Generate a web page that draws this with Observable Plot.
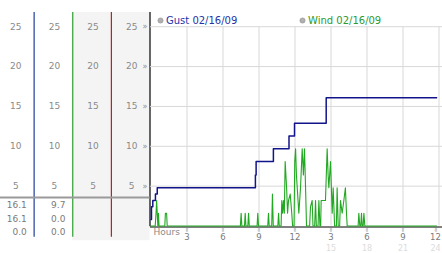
<!DOCTYPE html>
<html>
<head>
<meta charset="utf-8">
<script src="https://cdn.jsdelivr.net/npm/d3@7"></script>
<script src="https://cdn.jsdelivr.net/npm/@observablehq/plot@0.6"></script>
<style>
  html, body { margin: 0; padding: 0; background: #fff; }
  #wrap { display: flex; width: 442px; height: 253px; overflow: hidden; }
  #wrap svg { display: block; }
</style>
</head>
<body>
<div id="wrap"></div>
<script>
// ---- data ----
const gustHour  = [0, 0.04, 0.15, 0.37, 0.52, 8.7, 8.76, 10.2, 11.5, 11.96, 14.6, 23.8];
const gustSpeed = [0.8, 2.4, 3.2, 4.0, 4.8, 6.4, 8.1, 9.7, 11.3, 12.9, 16.1, 16.1];

const windHour = [0, 0.35, 0.42, 0.47, 0.52, 0.57, 0.62, 0.67, 1.15, 1.2, 1.3, 1.35,
  7.45, 7.51, 7.57, 7.79, 7.85, 7.91, 8.07, 8.13, 8.19, 8.84, 8.9, 8.96, 9.73, 9.79, 9.85,
  10.06, 10.12, 10.19, 10.57, 10.63, 10.69, 10.84, 10.9, 10.97, 11.04, 11.11, 11.18, 11.3,
  11.38, 11.46, 11.6, 11.73, 11.8, 11.92, 11.98, 12.05, 12.12, 12.32, 12.46, 12.6, 12.7,
  12.79, 12.88, 12.96, 13.22, 13.29, 13.43, 13.5, 13.64, 13.71, 13.78, 13.92, 13.99, 14.08,
  14.14, 14.18, 14.54, 14.68, 14.76, 14.82, 14.96, 15.1, 15.18, 15.3, 15.45, 15.51, 15.6,
  15.72, 15.79, 15.93, 16.07, 16.2, 16.29, 16.35, 17.26, 17.32, 17.4, 17.48, 17.54, 17.6,
  17.68, 17.74, 17.82, 23.8];
const windSpeed = [0, 0, 1.6, 3.2, 1.6, 0, 1.6, 0, 0, 1.6, 1.6, 0,
  0, 1.6, 0, 0, 1.6, 0, 0, 1.6, 0, 0, 1.6, 0, 0, 1.6, 0,
  0, 4.0, 0, 0, 1.6, 0, 0, 3.2, 1.6, 3.2, 1.6, 8.1, 4.8,
  1.6, 3.2, 4.0, 1.6, 0, 0, 8.1, 9.7, 6.4, 1.6, 4.8, 9.7, 6.4,
  9.7, 4.8, 0, 0, 2.4, 3.2, 0, 0, 3.2, 0, 0, 3.2, 0,
  0, 3.2, 3.2, 9.7, 6.4, 4.8, 8.1, 1.6, 4.8, 0, 0, 4.8, 0,
  0, 3.2, 1.6, 3.2, 4.8, 1.6, 0, 0, 1.6, 0, 0, 1.6, 0,
  0, 1.6, 0, 0];

const yTicks = [5, 10, 15, 20, 25];
const xGrid = [3, 6, 9, 12, 15, 18, 21, 24];
const xTickLabels = ["3", "6", "9", "12", "3", "6", "9", "12"];
const faintTicks = [15, 18, 21, 24];
const faintLabels = ["15", "18", "21", "24"];

const gustLabel = "Gust 02/16/09";
const windLabel = "Wind 02/16/09";
const gustStats = ["16.1", "16.1", "0.0"];
const windStats = ["9.7", "0.0", "0.0"];
const panelColors = ["#1f3d9c", "#2f9f2f", "#a82525"];

// ---- build ----
const gust = gustHour.map((h, i) => ({h, v: gustSpeed[i]}));
const wind = windHour.map((h, i) => ({h, v: windSpeed[i]}));
const yDomain = [0, 26.66];
const yRange = [225.5, 13];
const font = {fontFamily: "DejaVu Sans", fontSize: "9px", background: "transparent", overflow: "visible"};

// left panel: four columns of axis labels
const cells = [];
for (let p = 0; p < 4; p++) for (const v of yTicks) cells.push({p: p + 0.5, v});
const statRows = gustStats.map((g, i) => ({g, w: windStats[i], i}));

const left = Plot.plot({
  width: 150, height: 253, margin: 0,
  x: {domain: [0, 4], range: [-5, 149.5], axis: null},
  y: {domain: yDomain, range: yRange, axis: null},
  style: font,
  marks: [
    Plot.rect([{a: 2, b: 3}, {a: 3, b: 4}], {x1: "a", x2: "b", y1: -1.85, y2: 26.8, fill: "#f4f4f4"}),
    Plot.ruleX([1, 2, 3], {x: d => d, y1: -1.4, y2: 26.8, stroke: (d, i) => panelColors[i], strokeWidth: 1.2}),
    Plot.ruleX([4], {y1: -0.1, y2: 26.8, stroke: "#000", strokeWidth: 1.2}),
    Plot.ruleY([3.58], {x1: 0, x2: 4, stroke: "#9a9a9a", strokeWidth: 2}),
    Plot.text(cells, {x: "p", y: "v", text: d => String(d.v), fill: "#8a8a8a", dx: 1}),
    Plot.text(yTicks, {x: () => 4, y: d => d, text: () => "»", fill: "#909090", fontSize: 8, dx: -5}),
    ...statRows.map(r => Plot.text([r], {x: () => 0.5, y: () => 0, text: "g", textAnchor: "end", dx: 12, dy: -20.5 + 13.35 * r.i, fill: "#7a7a7a"})),
    ...statRows.map(r => Plot.text([r], {x: () => 1.5, y: () => 0, text: "w", textAnchor: "end", dx: 12, dy: -20.5 + 13.35 * r.i, fill: "#7a7a7a"}))
  ]
});

const main = Plot.plot({
  width: 292, height: 253, margin: 0,
  x: {domain: [0, 24], range: [0.5, 288.5], axis: null},
  y: {domain: yDomain, range: yRange, axis: null},
  style: font,
  marks: [
    Plot.ruleY(yTicks, {stroke: "#d8d8d8"}),
    Plot.ruleX(xGrid, {y1: 0, y2: 25, stroke: "#d8d8d8"}),
    Plot.ruleY([0], {dy: 1, stroke: "#000"}),
    Plot.line(wind, {x: "h", y: "v", stroke: "#22a822", strokeWidth: 1.1}),
    Plot.line(gust, {x: "h", y: "v", curve: "step-after", stroke: "#12148a", strokeWidth: 1.5}),
    // legend
    Plot.dot([gustLabel], {frameAnchor: "top-left", dx: 10, dy: 20, r: 2.6, fill: "#b0b0b0", stroke: "#909090", strokeWidth: 0.6}),
    Plot.text([gustLabel], {frameAnchor: "top-left", lineAnchor: "middle", text: d => d, dx: 15.5, dy: 20, textAnchor: "start", fill: "#2533a8", fontSize: 10}),
    Plot.dot([windLabel], {frameAnchor: "top-left", dx: 152, dy: 20, r: 2.6, fill: "#b0b0b0", stroke: "#909090", strokeWidth: 0.6}),
    Plot.text([windLabel], {frameAnchor: "top-left", lineAnchor: "middle", text: d => d, dx: 157.5, dy: 20, textAnchor: "start", fill: "#2e9a2e", fontSize: 10}),
    // x axis
    Plot.text(["Hours"], {frameAnchor: "bottom-left", lineAnchor: "middle", text: d => d, textAnchor: "start", dx: 3, dy: -21.3, fill: "#8a8a8a"}),
    Plot.text(xGrid, {x: d => d, frameAnchor: "bottom", lineAnchor: "middle", text: () => "≈", rotate: 90, fontSize: 6, dy: -23.7, fill: "#909090", filter: d => d < 24}),
    Plot.text(xGrid, {x: d => d, frameAnchor: "bottom", lineAnchor: "middle", text: () => "≈", rotate: 90, fontSize: 6, dx: -3, dy: -23.7, fill: "#909090", filter: d => d === 24}),
    Plot.text(xGrid, {x: d => d, frameAnchor: "bottom", lineAnchor: "middle", text: (d, i) => xTickLabels[i], fontSize: 8.5, dy: -16, fill: "#7a7a7a", filter: d => d < 24}),
    Plot.text(xGrid, {x: d => d, frameAnchor: "bottom", lineAnchor: "middle", text: (d, i) => xTickLabels[i], fontSize: 8.5, dx: -3.5, dy: -16, fill: "#7a7a7a", filter: d => d === 24}),
    Plot.text(faintTicks, {x: d => d, frameAnchor: "bottom", lineAnchor: "middle", text: (d, i) => faintLabels[i], fontSize: 8, dy: -5.5, fill: "#dcdcdc", filter: d => d < 24}),
    Plot.text(faintTicks, {x: d => d, frameAnchor: "bottom", lineAnchor: "middle", text: (d, i) => faintLabels[i], fontSize: 8, dx: -3.5, dy: -5.5, fill: "#dcdcdc", filter: d => d === 24})
  ]
});

const wrap = document.getElementById("wrap");
wrap.appendChild(left);
wrap.appendChild(main);
</script>
</body>
</html>
